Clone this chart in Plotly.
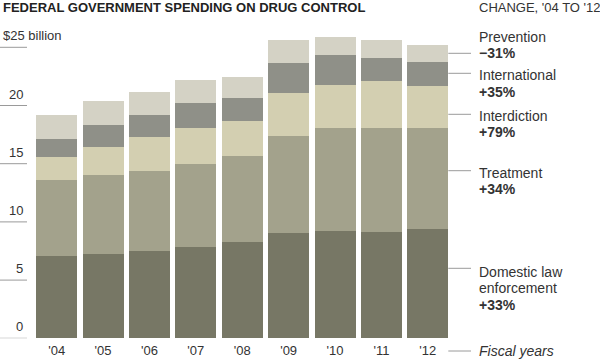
import plotly.graph_objects as go

# ---- data (billions of dollars) ----
years = ["'04", "'05", "'06", "'07", "'08", "'09", "'10", "'11", "'12"]
domestic = [7.07, 7.27, 7.53, 7.87, 8.30, 9.02, 9.19, 9.13, 9.36]
treatment = [6.53, 6.76, 6.82, 7.10, 7.39, 8.39, 8.88, 8.94, 8.71]
interdiction = [2.00, 2.43, 2.92, 3.07, 2.98, 3.69, 3.69, 4.03, 3.63]
international = [1.55, 1.86, 1.89, 2.20, 2.00, 2.55, 2.58, 2.00, 2.06]
prevention = [2.03, 2.07, 1.97, 1.95, 1.81, 1.95, 1.57, 1.50, 1.44]

y_ticks = [0, 5, 10, 15, 20, 25]
y_tick_labels = ["0", "5", "10", "15", "20", "$25 billion"]

series_names = ["Domestic law enforcement", "Treatment", "Interdiction", "International", "Prevention"]
series_changes = ["+33%", "+34%", "+79%", "+35%", "\u221231%"]

# ---- styles ----
W, H = 600, 361
FONT = "Liberation Sans, Arial, Helvetica, sans-serif"
colors = ["#777765", "#a3a28c", "#d3cfb1", "#8f9088", "#d4d2c5"]
TXT = "#333333"
GRID = "#9a9a9a"

y0_px = 338.3          # pixel row of value 0
px_per_unit = 11.64
x_left_px, x_right_px = 33.45, 451.0


def px(xp):
    return xp / W


def py(yp):
    return (H - yp) / H


fig = go.Figure()
for vals, name, col in zip([domestic, treatment, interdiction, international, prevention],
                           series_names, colors):
    fig.add_trace(go.Bar(x=list(range(len(years))), y=vals, name=name,
                         marker=dict(color=col, line=dict(width=0)),
                         hoverinfo="y+name"))

shapes = []
annotations = []

# y gridlines (short, left) and labels
for v, lab in zip(y_ticks, y_tick_labels):
    shapes.append(dict(type="line", xref="paper", yref="y", x0=0, x1=px(27), y0=v, y1=v,
                       line=dict(color=GRID, width=1)))
    if lab.startswith("$"):
        annotations.append(dict(xref="paper", yref="y", x=px(1), y=v, text=lab,
                                xanchor="left", yanchor="bottom", yshift=2, showarrow=False,
                                font=dict(family=FONT, size=13, color=TXT)))
    else:
        annotations.append(dict(xref="paper", yref="y", x=px(24.5), y=v, text=lab,
                                xanchor="right", yanchor="bottom", yshift=2, showarrow=False,
                                font=dict(family=FONT, size=13, color=TXT)))

# titles
annotations.append(dict(xref="paper", yref="paper", x=px(1), y=py(7.5),
                        text="<b>FEDERAL GOVERNMENT SPENDING ON DRUG CONTROL</b>",
                        xanchor="left", yanchor="middle", showarrow=False,
                        font=dict(family=FONT, size=13, color="#222222")))
annotations.append(dict(xref="paper", yref="paper", x=px(476.5), y=py(7.5),
                        text="CHANGE, '04 TO '12",
                        xanchor="left", yanchor="middle", showarrow=False,
                        font=dict(family=FONT, size=13, color=TXT)))

# right-hand labels: (line_y_px, [(text, y_px, bold), ...])
label_layout = [
    (268.3, [("Domestic law", 271.7, False), ("enforcement", 288.3, False), (series_changes[0], 305.0, True)]),
    (170.7, [("Treatment", 172.7, False), (series_changes[1], 188.8, True)]),
    (114.3, [("Interdiction", 115.7, False), (series_changes[2], 131.9, True)]),
    (73.3, [("International", 75.0, False), (series_changes[3], 91.5, True)]),
    (53.3, [("Prevention", 36.9, False), (series_changes[4], 53.3, True)]),
    (351.0, [("<i>Fiscal years</i>", 351.0, False)]),
]
for line_y, lines in label_layout:
    shapes.append(dict(type="line", xref="paper", yref="paper", x0=px(448.3), x1=px(471),
                       y0=py(line_y), y1=py(line_y), line=dict(color=GRID, width=1)))
    for t, yy, bold in lines:
        annotations.append(dict(xref="paper", yref="paper", x=px(476.5), y=py(yy),
                                text=f"<b>{t}</b>" if bold else t,
                                xanchor="left", yanchor="middle", showarrow=False,
                                font=dict(family=FONT, size=14, color=TXT)))

fig.update_layout(
    width=W, height=H,
    margin=dict(l=0, r=0, t=0, b=0),
    paper_bgcolor="white", plot_bgcolor="white",
    barmode="stack", bargap=0.116,
    showlegend=False,
    xaxis=dict(domain=[px(x_left_px), px(x_right_px)], range=[-0.5, 8.5],
               tickmode="array", tickvals=list(range(len(years))), ticktext=years,
               showgrid=False, zeroline=False, showline=False, ticks="",
               ticklabelstandoff=3,
               tickfont=dict(family=FONT, size=13, color=TXT), fixedrange=True),
    yaxis=dict(domain=[py(y0_px), 1], range=[0, y0_px / px_per_unit],
               showgrid=False, zeroline=False, showline=False, showticklabels=False,
               ticks="", fixedrange=True),
    shapes=shapes,
    annotations=annotations,
)

fig.write_html(
    "out.html",
    config={"displayModeBar": False},
    post_script="document.body.style.margin='0';document.body.style.overflow='hidden';",
)
